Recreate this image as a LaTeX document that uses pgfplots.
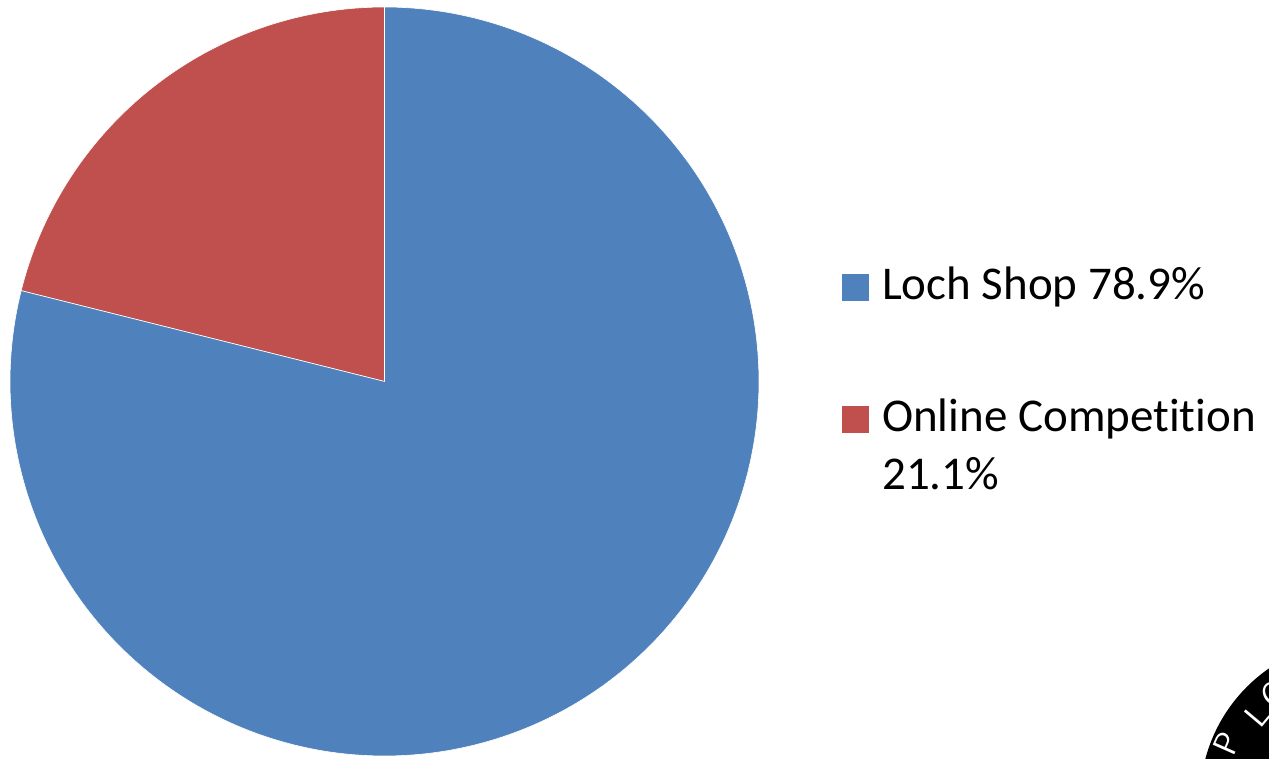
\documentclass[border=0pt]{standalone}
\usepackage{pgfplots}
\pgfplotsset{compat=1.18}
\usepackage{fontspec}
\setmainfont{Carlito}[Ligatures={NoCommon}]
\definecolor{pieblue}{HTML}{4F81BD}
\definecolor{piered}{HTML}{C0504D}
\pgfmathsetmacro{\vLoch}{78.9}
\pgfmathsetmacro{\vOnline}{21.1}
\pgfmathsetmacro{\aStart}{90}
\pgfmathsetmacro{\aMid}{90+3.6*\vOnline}
\pgfmathsetmacro{\aEnd}{90+3.6*(\vOnline+\vLoch)}
\begin{document}
\begin{tikzpicture}
\useasboundingbox (0pt,0pt) rectangle (1269pt,758pt);
\begin{axis}[at={(384.5pt,376.5pt)}, anchor=center, scale only axis,
  width=749pt, height=749pt, xmin=-1, xmax=1, ymin=-1, ymax=1,
  hide axis, clip=false]
\addplot[fill=piered, draw=white, line width=0.6pt, domain=\aStart:\aMid, samples=90, variable=\t]
  ({cos(\t)},{sin(\t)}) -- (axis cs:0,0) -- cycle;
\addplot[fill=pieblue, draw=white, line width=0.6pt, domain=\aMid:\aEnd, samples=300, variable=\t]
  ({cos(\t)},{sin(\t)}) -- (axis cs:0,0) -- cycle;
\end{axis}
% legend
\fill[pieblue] (842pt,457.3pt) rectangle (869pt,484pt);
\fill[piered] (842pt,325.3pt) rectangle (869pt,352pt);
\begin{scope}[every node/.style={inner sep=0pt, anchor=base west, font=\fontsize{47}{58}\selectfont}]
\node at (882pt,458.7pt) {Loch Shop 78.9\%};
\node at (882pt,326.3pt) {Online Competition};
\node at (882pt,268pt) {21.1\%};
\end{scope}
% logo (cropped watermark)
\begin{scope}
\clip (0pt,0pt) rectangle (1269pt,758pt);
\fill[black] (1360pt,-42pt) circle (160pt);
\begin{scope}[every node/.style={text=white, inner sep=0pt, font=\sffamily\fontsize{34}{34}\selectfont}]
\node[rotate=66] at (1227pt,15pt) {P};
\node[rotate=50] at (1257pt,43pt) {L};
\node[rotate=36] at (1274pt,64pt) {O};
\end{scope}
\end{scope}
\end{tikzpicture}
\end{document}
